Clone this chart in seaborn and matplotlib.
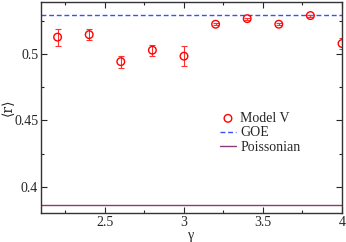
import matplotlib
matplotlib.use("Agg")
import matplotlib.pyplot as plt
import seaborn as sns
import numpy as np
import pandas as pd
from matplotlib.ticker import MultipleLocator

gamma = [2.2, 2.4, 2.6, 2.8, 3.0, 3.2, 3.4, 3.6, 3.8, 4.0]
r_mean = [0.5126, 0.5145, 0.4942, 0.5028, 0.4983, 0.5223, 0.5265, 0.5223, 0.5288, 0.5078]
r_err = [0.0063, 0.0040, 0.0045, 0.0040, 0.0075, 0.0008, 0.0008, 0.0008, 0.0008, 0.0038]
goe_value = 0.5295
poisson_value = 0.3863

sns.set_theme(style="ticks")
plt.rcParams['font.family'] = ['Liberation Serif', 'DejaVu Serif']
plt.rcParams['mathtext.fontset'] = 'stix'

df = pd.DataFrame({"gamma": gamma, "r": r_mean, "err": r_err})

fig = plt.figure(figsize=(3.46, 2.42), dpi=100)
ax = fig.add_axes([41/346, 29/242, 301/346, 211/242])

ax.axhline(goe_value, color="#3a50f0", ls=(0, (3.5, 2)), lw=1.0, label="GOE", zorder=1)
ax.axhline(poisson_value, color="#8e3a78", ls="-", lw=1.0, label="Poissonian", zorder=1)
ax.errorbar(df["gamma"], df["r"], yerr=df["err"], fmt="none", ecolor="#ff3030",
            elinewidth=0.8, capsize=2.5, capthick=0.8, zorder=2)
sns.scatterplot(data=df, x="gamma", y="r", ax=ax, marker="o", s=30,
                facecolors="none", edgecolor="#ff0000", linewidth=1.0,
                label="Model V", zorder=3)

ax.set_xlim(2.095, 4.0)
ax.set_ylim(0.3805, 0.539)
ax.xaxis.set_major_locator(MultipleLocator(0.5))
ax.xaxis.set_minor_locator(MultipleLocator(0.25))
ax.yaxis.set_major_locator(MultipleLocator(0.05))
ax.yaxis.set_minor_locator(MultipleLocator(0.025))
ax.set_xticks([2.5, 3.0, 3.5, 4.0])
ax.set_xticklabels(["2.5", "3", "3.5", "4"])
ax.set_yticks([0.4, 0.45, 0.5])
ax.set_yticklabels(["0.4", "0.45", "0.5"])
ax.tick_params(which="both", direction="in", top=True, right=True, labelsize=10, pad=2)
ax.tick_params(which="major", length=4, width=0.8)
ax.tick_params(which="minor", length=2, width=0.8)
for sp in ax.spines.values():
    sp.set_linewidth(1.0)
    sp.set_color("#333333")

ax.set_xlabel("γ", fontsize=10, labelpad=0)
ax.set_ylabel("⟨r⟩", fontsize=10, family=['DejaVu Serif'])
ax.yaxis.set_label_coords(-0.088, 0.5)

handles, labels = ax.get_legend_handles_labels()
order = [labels.index("Model V"), labels.index("GOE"), labels.index("Poissonian")]
ax.legend([handles[i] for i in order], [labels[i] for i in order],
          loc="upper left", bbox_to_anchor=(0.575, 0.505), frameon=False,
          fontsize=10, handlelength=1.2, handletextpad=0.3, labelspacing=0.1,
          borderaxespad=0)

fig.savefig("out.png", dpi=100)
